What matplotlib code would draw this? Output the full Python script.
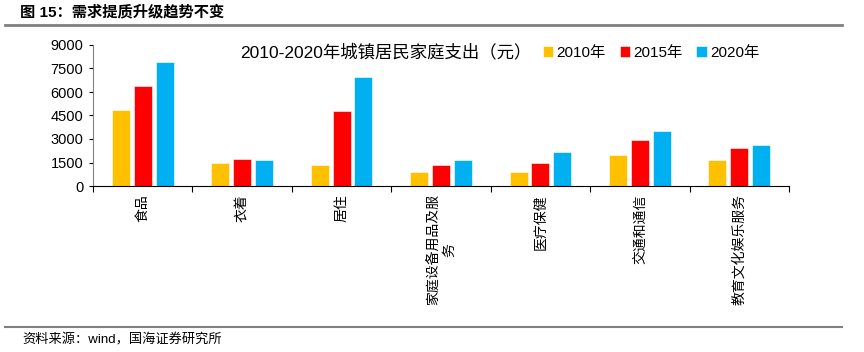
import matplotlib
matplotlib.use("Agg")
import matplotlib.pyplot as plt
import numpy as np
from matplotlib.lines import Line2D

plt.rcParams["font.family"] = ["Liberation Sans", "Noto Sans CJK SC", "DejaVu Sans"]

categories = ["食品", "衣着", "居住", "家庭设备用品及服\n务", "医疗保健", "交通和通信", "教育文化娱乐服务"]
years = ["2010年", "2015年", "2020年"]
v2010 = [4830, 1447, 1340, 910, 890, 1980, 1638]
v2015 = [6380, 1702, 4760, 1310, 1447, 2910, 2400]
v2020 = [7890, 1640, 6975, 1660, 2190, 3490, 2615]
colors = ["#FFC000", "#FF0000", "#00B0F0"]

fig = plt.figure(figsize=(8.64, 3.52), dpi=100)
ax = fig.add_axes([93 / 864, 1 - 186 / 352, (789 - 93) / 864, (186 - 45) / 352])

x = np.arange(len(categories))
width = 0.18
offsets = [-0.22, 0, 0.22]
for vals, col, lab, off in zip([v2010, v2015, v2020], colors, years, offsets):
    ax.bar(x + off, vals, width, color=col, edgecolor="white", linewidth=0.4, label=lab)

ax.set_xlim(-0.5, len(categories) - 0.5)
ax.set_ylim(0, 9000)
ax.set_yticks(np.arange(0, 9001, 1500))
ax.tick_params(axis="y", labelsize=10.5, length=3, width=0.8, pad=4)

ax.set_xticks(x)
ax.set_xticklabels(categories, rotation=90, fontsize=10, va="top", ha="center",
                   multialignment="center")
ax.set_xticks(np.arange(-0.5, len(categories)), minor=True)
ax.tick_params(axis="x", which="major", length=0, pad=6)
ax.tick_params(axis="x", which="minor", length=4, width=0.8)

for s in ["top", "right"]:
    ax.spines[s].set_visible(False)
ax.spines["left"].set_color("#808080")
ax.spines["bottom"].set_color("black")

fig.text(386 / 864, 1 - 52 / 352, "2010-2020年城镇居民家庭支出（元）", ha="center", va="center",
         fontsize=12.5)
fig.legend(loc="center", bbox_to_anchor=(651 / 864, 1 - 53 / 352), ncol=3, frameon=False,
           fontsize=11, handlelength=0.7, handleheight=0.7, handletextpad=0.2,
           columnspacing=0.9, borderpad=0)

# header / footer
fig.text(20 / 864, 1 - 12 / 352, "图 15：需求提质升级趋势不变", ha="left", va="center",
         fontsize=11, fontweight="bold")
fig.add_artist(Line2D([5 / 864, 842 / 864], [1 - 25 / 352] * 2, color="#808080", linewidth=2))
fig.add_artist(Line2D([5 / 864, 842 / 864], [1 - 327 / 352] * 2, color="#808080", linewidth=1.5))
fig.text(22 / 864, 1 - 340 / 352, "资料来源：wind，国海证券研究所", ha="left", va="center",
         fontsize=9.5)

fig.savefig("out.png", dpi=100)
